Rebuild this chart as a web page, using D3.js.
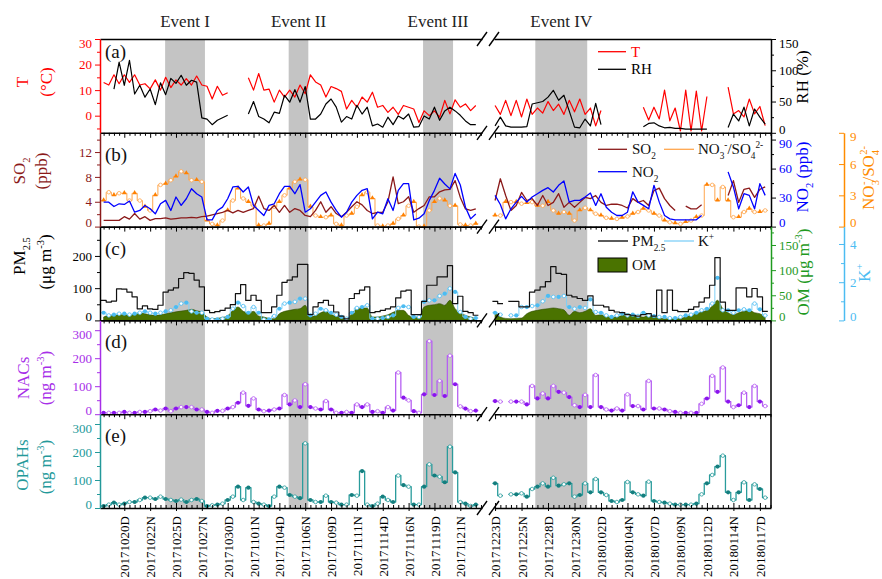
<!DOCTYPE html>
<html>
<head>
<meta charset="utf-8">
<script src="https://cdn.jsdelivr.net/npm/d3@7"></script>
<style>
  body { margin: 0; background: #fff; }
  svg { display: block; }
  text { font-family: "Liberation Serif", "Times New Roman", serif; }
</style>
</head>
<body>
<svg id="chart" width="882" height="579"></svg>
<script>
// ---- data (12-h samples, D = day, N = night); left block starts 20171018D, right block 20171223D
const tLeft = [13, 12, 16, 12.5, 16, 13, 16, 12, 12.5, 10.5, 14, 10, 15, 11, 14, 12, 14.5, 12, 15.5, 12, 11.5, 6.5, 11.5, 8, 9, null, null, null, 14.8, 10, 16.5, 10, 10.4, 5.3, 10, 7.3, 10, 7.3, 12, 8.6, 16, 13.2, 12, 7.3, 11.4, 10.6, 9.5, 2.6, 6, 3.3, 7.3, 5.3, 9.2, 3.3, 4, 1.3, 3.3, 0.5, 4, 3.3, 2.6, -2.7, 1.9, 0, 1.9, -0.6, 6, 0.7, 6.2, 3.3, 4.6, 2, 4];
const tRight = [4, 0.5, 6, 0, 6, -0.5, 6.5, 0.5, 3, 1, 5.5, 2, 4.5, 0.5, 6, 1.5, 6.5, 0.5, 3, -4, 2, null, null, null, null, null, null, null, 3.3, -1.7, 3.3, -1.3, 10, -2, 3, -6, 10, -6, 9.6, -6, 7.5, null, null, null, 11.2, 0.7, 2, -0.5, 6.5, 0.7, 3.6, -3.9];
const rhLeft = [null, null, 70, 113, 76, 116, 62, 76, 57, 70, 45, 80, 61, 87, 79, 92, 76, 84, 81, 24, 22, 13, 20, 24, 28, null, null, null, 30, 50, 26, 22, 16, 33, 31, 60, 49, 69, 49, 74, 22, 22, 30, 46, 54, 41, 17, 26, 22, 44, 30, 41, 11, 14, 9, 25, 13, 27, 22, 30, 9, 10, 27, 22, 41, 20, 35, 41, 35, 28, 19, 13, 13];
const rhRight = [11, 25, 11, 9, 9, 9, 10, 46, 48, 50, 57, 68, 52, 60, 35, 9, 8, 22, 11, 47, 13, null, null, null, null, null, null, null, 9.7, 15, 16, 11, 8, 8.6, 7, 7, 6, 6, 6, 6, 6, null, null, null, 8.6, 30, 19, 41, 11, 38, 25, 14];

const so2Left = [1.0, 1.0, 1.0, 1.0, 1.6, 1.2, 2.1, 1.2, 1.6, 1.0, 1.3, 1.3, 1.4, 1.2, 1.3, 1.4, 1.4, 1.5, 1.4, 1.6, 1.7, 1.9, 2.1, 2.3, 2.6, 2.2, 2.6, 2.3, 2.6, 2.9, 4.9, 2.9, 2.6, 3.4, 2.3, 3.4, 2.3, 2.9, 2.6, 1.8, 1.6, 2.6, 4.0, 2.3, 3.2, 2.1, 1.6, 2.3, 3.2, 4.0, 3.5, 2.6, 2.1, 2.3, 2.3, 4.0, 8.0, 3.7, 4.0, 4.8, 2.3, 2.9, 3.4, 4.8, 4.8, 5.6, 5.9, 6.0, 7.4, 4.7, 2.85, 2.6, 2.85];
const so2Right = [4.2, 7.7, 5.0, 2.6, 3.4, 5.5, 4.2, 4.5, 3.4, 5.0, 3.4, 3.9, 5.3, 3.1, 3.9, 3.1, 3.9, 4.7, 4.5, 5.0, 3.9, 3.4, 3.6, 3.6, 3.4, 3.0, 4.5, 3.9, 4.2, 3.4, 5.8, 6.2, 4.5, 3.4, 2.6, null, 3.3, 2.85, 2.85, 3.5, null, null, null, null, 5.0, 7.4, 3.9, 6.0, 6.2, 4.7, 6.0, 6.4];
const no2Left = [25.3, 25.3, 20.8, 23.6, 22.9, 26.4, 14.9, 16.7, 21.9, 18.4, 13.2, 23.6, 27.1, 16.7, 30.6, 21.9, 28.8, 39.2, 34, 30.6, 7, 7, 16.7, 20.1, 28.8, 41, 41.7, 35.8, 41, 21.9, 16.7, 11.5, 21.9, 23.6, 34, 41.7, 41.7, 34, 43.4, 14.9, 18.4, 25.3, 32.3, 35.8, 25.3, 16.7, 9.7, 14.9, 25.3, 32.3, 37.5, 39.2, 8, 14.9, 13.2, 28.8, 16.7, 37.5, 44.4, 44.4, 7, 8.7, 13.2, 27.1, 37.5, 50, 44, 39, 55, 43, 20, 8, 13];
const no2Right = [32.3, 22.9, 8, 18.4, 25.3, 31.2, 25.3, 30.6, 34, 37.5, 40.3, 35.8, 42.7, 47.2, 25.3, 27.1, 27.1, 30.6, 34.7, 21.9, 34, 20.1, 14.9, 11.5, 11.5, 14.9, 36, 25.3, 21.9, 18.4, 42.7, 25.3, 11.5, 8, 7, 7, 7, 7, 7, 11.5, null, null, null, null, 56.6, 41, 18.4, 34, 32.3, 18.4, 44.4, 32.3];
const ratioLeft = [2.5, 3.3, 3.0, 3.2, 3.2, 2.5, 3.2, 2.5, 1.9, 1.55, 3.0, 4.0, 4.1, 4.45, 4.8, 5.3, 5.1, 4.45, 4.45, 4.3, 0.58, 0.26, 0.1, 0.58, 1.55, 2.5, 3.65, 2.7, 2.35, 2.0, 0.1, 0.1, 0.26, 1.9, 2.35, 3.0, 3.65, 4.3, 4.5, 4.5, 1.9, 1.06, 0.9, 0.9, 1.06, 0.26, 0.1, 1.06, 1.23, 1.9, 3.0, 3.3, 2.7, 0.1, 0, 0.1, 0.26, 0.74, 1.06, 2.0, 2.35, 0, 0, 1.55, 2.35, 2.7, 2.5, 2.0, 2.0, 0.2, 0.1, 0.1, 0.26];
const ratioRight = [1.06, 1.06, 2.35, 2.35, 2.35, 2.2, 2.25, 2.35, 2.0, 2.0, 2.35, 1.55, 1.23, 1.4, 1.23, 0.58, 1.55, 1.8, 1.55, 1.23, 1.06, 0.84, 0.74, 0.74, 0.84, 0.97, 1.23, 1.4, 1.7, 1.55, 1.23, 1.06, 0.58, 0.42, 0.32, 0.26, 0.42, 0.58, 0.9, 1.06, 4.0, 4.0, 2.5, 3.8, 2.5, 0.9, 0.9, 1.4, 1.7, 1.4, 1.4, 1.55];

const pmLeft = [62, 57, 60, 98, 97, 88, 73, 36, 45, 36, 34, 47, 88, 94, 101, 130, 148, 146, 125, 104, 31, 24, 27, 31, 38, 49, 83, 111, 62, 78, 62, 24, 24, 42, 78, 118, 125, 135, 174, 174, 18, 42, 55, 62, 47, 26, 13, 5, 68, 83, 94, 104, 24, 27, 31, 36, 42, 70, 91, 94, 18, 18, 59, 109, 109, 135, 135, 170, 52, 75, 28, 24, 16];
const pmRight = [59, 52, null, 59, 59, 42, 42, 88, 94, 104, 120, 167, 146, 143, 78, 73, 68, 62, 76, 47, 47, 42, 31, 26, 24, 18, 16, 13, 18, 21, 13, 94, 24, 94, 31, 27, 27, 34, 42, 57, 70, 109, 195, 57, 31, 31, 101, 101, 73, 99, 73, 28];
const omLeft = [6.7, 10, 10.5, 11.3, 11.3, 11.3, 13, 15.3, 13.3, 11, 10, 11, 13.3, 15, 17, 18.5, 20, 22, 19, 16.7, 6.7, 3.3, 4, 6, 9, 20, 26.7, 18, 15.3, 18, 8.7, 6.7, 4, 3.3, 13.3, 18, 20, 22, 23.3, 30, 6.7, 10, 15.3, 18, 12, 8, 6.7, 3.3, 13.3, 23.3, 24.7, 24.7, 6.7, 6.7, 8.7, 11.3, 16, 20, 20, 10, 6.7, 6.7, 26.7, 30, 31.3, 33.3, 30, 40, 23.3, 15, 10, 6.7, 3.3];
const omRight = [18, 6.7, 4, 3.3, 4, 4.7, 13.3, 18, 20, 22, 23.3, 24.7, 23.3, 21, 10, 18, 15.3, 18, 23.3, 10, 11.3, 9, 6.7, 6.7, 10, 13.3, 10, 8, 6.7, 10, 6.7, 4.7, 3.3, 3.3, 3.3, 4, 6.7, 11.3, 14, 16.7, 20, 28, 40, 23.3, 15.3, 11.3, 15.3, 18, 20, 15.3, 13.3, 6.7];
const kLeft = [0.4, 0.26, 0.3, 0.35, 0.35, 0.3, 0.35, 0.4, 0.47, 0.4, 0.35, 0.4, 0.47, 0.53, 0.7, 0.88, 0.93, 0.47, 0.4, 0.4, 0.09, 0.05, 0.05, 0.09, 0.18, 0.61, 0.93, 0.75, 0.4, 0.7, 0.4, 0.05, 0.05, 0.23, 0.61, 0.88, 0.93, 0.97, 1.14, 1.14, 0.26, 0.35, 0.61, 0.53, 0.4, 0.3, 0.18, 0.09, 0.4, 0.65, 0.7, 0.79, 0.09, 0.09, 0.12, 0.18, 0.26, 0.65, 0.74, 0.7, 0.18, 0.18, 0.97, 1.05, 1.05, 1.28, 1.4, 1.67, 1.49, 0.44, 0.18, 0.09, 0.12];
const kRight = [0.4, 0.3, null, 0.26, 0.26, 0.7, 0.7, 0.75, 0.79, 1.0, 1.28, 1.23, 1.23, 1.28, 0.7, 0.61, 0.7, 0.65, 1.1, 0.44, 0.4, 0.26, 0.18, 0.26, 0.35, 0.26, 0.3, 0.23, 0.4, 0.26, 0.23, 0.18, 0.18, 0.12, 0.12, 0.18, 0.26, 0.3, 0.4, 0.53, 0.61, 0.88, 2.23, 0.53, 0.53, 0.4, 0.53, 0.58, 0.53, 0.88, 0.58, 0.26];

const nacsLeft = [4.8, 4.8, 4.8, 4.8, 8, 4.8, 4.8, 8, 8, 10.8, 16.8, 13, 20.4, 10.8, 20.4, 25.3, 25.3, 25.3, 16.8, 16.8, 8, 4.8, 12, 12, 20.4, 25.3, 40.9, 77, 30, 56.5, 16.8, 10.8, 13, 16.8, 20.4, 68.6, 34.9, 49.3, 25.3, 107, 25.3, 20.4, 16.8, 47, 16.8, 4.8, 4.8, 8, 4.8, 34.9, 25.3, 34.9, 8, 10.8, 4.8, 25.3, 13, 149, 59, 49.3, 10.8, 4.8, 71, 261, 68.6, 119, 65, 209, 107, 28, 20, 10.8, 13];
const nacsRight = [47, 45, null, 45, 45, 45, 35, 101, 56.5, 74, 56.5, 101, 80, 77, 61, 32, 25.3, 69, 25.3, 140, 25.3, 16.8, 13, 20.4, 13, 71, 29, 29, 16.8, 119, 20.4, 20.4, 16.8, 10.8, 8, 4.8, 4.8, 4.8, 4.8, 37, 56, 137, 80, 167, 45, 25.3, 32, 77, 25.3, 101, 45, 29];
const opahsLeft = [7.1, 11.9, 19, 11.9, 15.5, 21.4, 21.4, 28.6, 36.9, 36.9, 32.1, 40.5, 32.1, 28.6, 25, 30, 21.4, 28.6, 32.1, 25, 7.1, 9.5, 11.9, 15.5, 28.6, 40.5, 76.2, 28.6, 72.6, 21.4, 15.5, 11.9, 7.1, 40.5, 76.2, 72.6, 46.4, 40.5, 35, 231, 28.6, 21.4, 21.4, 44, 21.4, 19, 11.9, 11.9, 46.4, 44, 132, 11.9, 7.1, 15.5, 40.5, 28.6, 21.4, 116, 82, 76.2, 11.9, 11.9, 76.2, 156, 116, 112, 92, 219, 127, 21, 15.5, 7.1, 11.9];
const opahsRight = [88, 44, null, 48.8, 48.8, 52.4, 40.5, 67.9, 76.2, 88, 76.2, 108, 79.8, 84.5, 88, 40.5, 46.4, 88, 55.9, 103.6, 55.9, 46.4, 25, 21.4, 28.6, 93, 55.9, 48.8, 44, 94, 25, 21.4, 19, 15.5, 11.9, 11.9, 11.9, 11.9, 15.5, 48.8, 88, 118, 148, 187, 55.9, 28.6, 55.9, 91.7, 28.6, 84.5, 67.9, 36.9];

const leftTickLabels = ["20171020D", "20171022N", "20171025D", "20171027N", "20171030D", "20171101N", "20171104D", "20171106N", "20171109D", "20171111N", "20171114D", "20171116N", "20171119D", "20171121N"];
const rightTickLabels = ["20171223D", "20171225N", "20171228D", "20171230N", "20180102D", "20180104N", "20180107D", "20180109N", "20180112D", "20180114N", "20180117D"];

const eventNames = ["Event I", "Event II", "Event III", "Event IV"];
const eventBlock = ["L", "L", "L", "R"];
const eventFrom = [11.9, 35.8, 61.8, 7.6];
const eventTo = [19.6, 39.6, 67.6, 17.4];

// ---- sample names for the two blocks
const fmtDay = d3.timeFormat("%Y%m%d");
function halfDays(start, count) {
  const out = [];
  for (let k = 0; k < count; k++) {
    out.push(fmtDay(d3.timeDay.offset(start, Math.floor(k / 2))) + (k % 2 ? "N" : "D"));
  }
  return out;
}
const leftSamples = halfDays(new Date(2017, 9, 18), tLeft.length);
const rightSamples = halfDays(new Date(2017, 11, 23), tRight.length);

// ---- layout
const plotLeft = 100, plotRight = 771, breakL = 482, breakR = 494;
const rows = [39, 132.8, 226.6, 320.4, 414.2, 508];
const extraAxisX = 844;

const xL = d3.scaleLinear().domain([-0.7, 73.2]).range([plotLeft, breakL]);
const xR = d3.scaleLinear().domain([-0.2, 52.1]).range([breakR, plotRight]);

const svg = d3.select("#chart");

const colT = "#ff0000", colSO2 = "#8b1a1a", colNO2 = "#0000ff", colRatio = "#ff8c00";
const colOM = "#4a7300", colOMaxis = "#1f9a1f", colK = "#4cbcf2";
const colNACs = "#a72ee8", colOPAH = "#23999a";

// event shading
eventNames.forEach((name, k) => {
  const x = eventBlock[k] === "L" ? xL : xR;
  svg.append("rect")
    .attr("x", x(eventFrom[k])).attr("y", rows[0])
    .attr("width", x(eventTo[k]) - x(eventFrom[k]))
    .attr("height", rows[5] - rows[0])
    .attr("fill", "#c4c4c4");
  svg.append("text")
    .attr("x", (x(eventFrom[k]) + x(eventTo[k])) / 2).attr("y", 27)
    .attr("text-anchor", "middle").attr("font-size", 17).attr("fill", "#222")
    .text(name);
});

// ---- helpers
function padRuns(vals) {
  const pts = [];
  vals.forEach((v, i) => {
    if (v == null) { pts.push({ i, v: null }); return; }
    if (i === 0 || vals[i - 1] == null) pts.push({ i: i - 0.5, v });
    pts.push({ i, v });
    if (i === vals.length - 1 || vals[i + 1] == null) pts.push({ i: i + 0.5, v });
  });
  return pts;
}

function drawLine(g, y, blocks, color, width, step) {
  blocks.forEach((vals, b) => {
    const x = b ? xR : xL;
    const pts = step ? padRuns(vals) : vals.map((v, i) => ({ i, v }));
    const line = d3.line()
      .defined(d => d.v != null)
      .x(d => x(d.i)).y(d => y(d.v))
      .curve(step ? d3.curveStep : d3.curveLinear);
    g.append("path").attr("d", line(pts))
      .attr("fill", "none").attr("stroke", color)
      .attr("stroke-width", width).attr("stroke-linejoin", "round");
  });
}

function drawMarks(g, y, blocks, fillCol, strokeCol, tri) {
  blocks.forEach((vals, b) => {
    const x = b ? xR : xL;
    const pts = vals.map((v, i) => ({ i, v })).filter(d => d.v != null);
    pts.forEach(d => {
      if (d.i % 2 === 0) {
        if (tri) {
          g.append("path").attr("d", d3.symbol(d3.symbolTriangle, 10)())
            .attr("transform", `translate(${x(d.i)},${y(d.v) - 0.5})`).attr("fill", fillCol);
        } else {
          g.append("circle").attr("cx", x(d.i)).attr("cy", y(d.v)).attr("r", 2.1).attr("fill", fillCol);
        }
      } else {
        g.append("circle").attr("cx", x(d.i)).attr("cy", y(d.v)).attr("r", 1.8)
          .attr("fill", "#fff").attr("stroke", strokeCol).attr("stroke-width", 0.8);
      }
    });
  });
}

function styleAxis(g, color, width) {
  g.select(".domain").attr("stroke", color).attr("stroke-width", width || 1.5);
  g.selectAll(".tick line").attr("stroke", color);
  g.selectAll(".tick text").attr("fill", color).attr("font-size", 13)
    .attr("font-family", "Liberation Serif, serif");
}

function yAxis(kind, y, x0, color, majors, minors, textColor, ticksIn) {
  const mk = kind === "left" ? d3.axisLeft : d3.axisRight;
  const g = svg.append("g").attr("transform", `translate(${x0},0)`);
  g.call(mk(y).tickValues(majors).tickSize(ticksIn ? -5 : 5).tickSizeOuter(0)
    .tickPadding(ticksIn ? 6 : 3).tickFormat(d3.format("~g")));
  styleAxis(g, color);
  if (textColor) g.selectAll(".tick text").attr("fill", textColor);
  // keep labels at shared panel edges apart
  const [r0, r1] = y.range();
  g.selectAll(".tick text").attr("dy", d => {
    if (Math.abs(y(d) - r0) < 1) return "0.02em";
    if (y(d) - r1 < 11) return "0.62em";
    return "0.32em";
  });
  if (minors.length) {
    const m = g.append("g").call(mk(y).tickValues(minors).tickSize(ticksIn ? -3 : 3).tickSizeOuter(0).tickFormat(""));
    m.select(".domain").remove();
    m.selectAll(".tick line").attr("stroke", color);
  }
  return g;
}

function rich(sel, parts, size) {
  let shift = 0;
  parts.forEach(p => {
    const [t, kind, dx] = p;
    const target = kind === "sub" ? 0.32 * size : kind === "sup" ? -0.42 * size : 0;
    const ts = sel.append("tspan").attr("dy", target - shift)
      .attr("font-size", kind ? size * 0.62 : size).text(t);
    if (dx) ts.attr("dx", dx);
    shift = target;
  });
}

function vTitle(cx, cy, color, parts, size) {
  const t = svg.append("text")
    .attr("transform", `translate(${cx},${cy}) rotate(-90)`)
    .attr("text-anchor", "middle")
    .attr("fill", color).attr("font-size", size || 17);
  const inner = t.append("tspan").attr("dy", "0.35em");
  rich(inner, parts, size || 17);
}

function clipFor(k) {
  const id = "clip" + k;
  svg.append("clipPath").attr("id", id).append("rect")
    .attr("x", plotLeft).attr("y", rows[k]).attr("width", plotRight - plotLeft).attr("height", rows[k + 1] - rows[k]);
  return svg.append("g").attr("clip-path", `url(#${id})`);
}

// ---- panel (a)
const yT = d3.scaleLinear().domain([-6.7, 30]).range([rows[1], rows[0]]);
const yRH = d3.scaleLinear().domain([0, 150]).range([rows[1], rows[0]]);
const gA = clipFor(0);
drawLine(gA, yT, [tLeft, tRight], colT, 1.2, false);
drawLine(gA, yRH, [rhLeft, rhRight], "#000", 1.2, false);

// ---- panel (b)
const ySO2 = d3.scaleLinear().domain([0, 15.1]).range([rows[2], rows[1]]);
const yNO2 = d3.scaleLinear().domain([0, 97]).range([rows[2], rows[1]]);
const yRatio = d3.scaleLinear().domain([0, 9]).range([rows[2], rows[1]]);
const gB = clipFor(1);
drawLine(gB, yRatio, [ratioLeft, ratioRight], "#ffa64d", 1, true);
drawMarks(gB, yRatio, [ratioLeft, ratioRight], "#ff8000", "#ffa64d", true);
drawLine(gB, ySO2, [so2Left, so2Right], colSO2, 1.3, false);
drawLine(gB, yNO2, [no2Left, no2Right], colNO2, 1.3, false);

// ---- panel (c)
const yPM = d3.scaleLinear().domain([0, 291]).range([rows[3], rows[2]]);
const yOM = d3.scaleLinear().domain([0, 186.6]).range([rows[3], rows[2]]);
const yK = d3.scaleLinear().domain([0, 4.91]).range([rows[3], rows[2]]);
const gC = clipFor(2);
[omLeft, omRight].forEach((vals, b) => {
  const x = b ? xR : xL;
  const area = d3.area().defined(d => d != null)
    .x((d, i) => x(i)).y0(yOM(0)).y1(d => yOM(d)).curve(d3.curveMonotoneX);
  gC.append("path").attr("d", area(vals)).attr("fill", colOM)
    .attr("stroke", "#2f4d00").attr("stroke-width", 0.6);
});
drawLine(gC, yK, [kLeft, kRight], "#7fd0f7", 1, true);
drawMarks(gC, yK, [kLeft, kRight], colK, colK, false);
drawLine(gC, yPM, [pmLeft, pmRight], "#111", 1.2, true);

// ---- panel (d)
const yNACs = d3.scaleLinear().domain([0, 335]).range([rows[4], rows[3]]);
const gD = clipFor(3);
drawLine(gD, yNACs, [nacsLeft, nacsRight], "#b660f2", 1.3, true);
drawMarks(gD, yNACs, [nacsLeft, nacsRight], "#8a14ee", "#b660f2", false);

// ---- panel (e)
const yOPAH = d3.scaleLinear().domain([0, 335]).range([rows[5], rows[4]]);
const gE = clipFor(4);
drawLine(gE, yOPAH, [opahsLeft, opahsRight], "#2a9c9c", 1.3, true);
drawMarks(gE, yOPAH, [opahsLeft, opahsRight], "#147e7e", "#2a9c9c", false);

// ---- horizontal frame lines with x ticks and the axis break
const leftMajor = leftTickLabels.map(l => leftSamples.indexOf(l));
const rightMajor = rightTickLabels.map(l => rightSamples.indexOf(l));
const leftMinor = d3.range(0, 74).filter(i => !leftMajor.includes(i));
const rightMinor = d3.range(0, 53).filter(i => !rightMajor.includes(i));

rows.forEach((ry, k) => {
  [[xL, leftMajor, leftMinor], [xR, rightMajor, rightMinor]].forEach(([x, maj, min]) => {
    const mk = k === 5 ? d3.axisTop : d3.axisBottom;
    const g = svg.append("g").attr("transform", `translate(0,${ry})`);
    g.call(mk(x).tickValues(k === 0 ? [] : maj).tickSize(5).tickSizeOuter(0).tickFormat(""));
    g.select(".domain").attr("stroke", "#000").attr("stroke-width", 1.6);
    g.selectAll(".tick line").attr("stroke", "#000");
    if (k > 0) {
      const m = g.append("g").call(mk(x).tickValues(min).tickSize(3).tickSizeOuter(0).tickFormat(""));
      m.select(".domain").remove();
      m.selectAll(".tick line").attr("stroke", "#000");
    }
  });
  [breakL, breakR].forEach(bx => {
    svg.append("line").attr("x1", bx - 5).attr("y1", ry + 7).attr("x2", bx + 5).attr("y2", ry - 7)
      .attr("stroke", "#000").attr("stroke-width", 1.4);
  });
});

// bottom tick labels
[[xL, leftMajor, leftSamples], [xR, rightMajor, rightSamples]].forEach(([x, maj, names]) => {
  const g = svg.append("g").attr("transform", `translate(0,${rows[5]})`);
  g.call(d3.axisBottom(x).tickValues(maj).tickSize(3).tickSizeOuter(0).tickFormat(i => names[i]));
  g.select(".domain").remove();
  g.selectAll(".tick line").attr("stroke", "#000");
  g.selectAll(".tick text")
    .attr("transform", "rotate(-90)").attr("text-anchor", "end")
    .attr("x", -8).attr("y", 0).attr("dy", "0.35em")
    .attr("font-size", 13).attr("fill", "#000").attr("font-family", "Liberation Serif, serif");
});

// ---- y axes, left
yAxis("left", yT, plotLeft, colT, [0, 10, 20, 30], [-5, 5, 15, 25]);
yAxis("left", ySO2, plotLeft, colSO2, [0, 4, 8, 12], [2, 6, 10, 14]);
yAxis("left", yPM, plotLeft, "#000", [0, 100, 200], [50, 150, 250]);
yAxis("left", yNACs, plotLeft, colNACs, [0, 100, 200, 300], [50, 150, 250]);
yAxis("left", yOPAH, plotLeft, colOPAH, [0, 100, 200, 300], [50, 150, 250]);

// ---- y axes, right
yAxis("right", yRH, plotRight, "#000", [0, 50, 100, 150], [25, 75, 125]);
yAxis("right", yNO2, plotRight, "#000", [0, 30, 60, 90], [15, 45, 75], colNO2);
yAxis("right", yOM, plotRight, colOMaxis, [0, 50, 100, 150], [25, 75, 125, 175]);
yAxis("right", yRatio, extraAxisX, colRatio, [0, 3, 6, 9], [], null, true);
yAxis("right", yK, extraAxisX, colK, [0, 2, 4], [1, 3], null, true);
[3, 4].forEach(k => {
  svg.append("line").attr("x1", plotRight).attr("x2", plotRight)
    .attr("y1", rows[k]).attr("y2", rows[k + 1]).attr("stroke", "#000").attr("stroke-width", 1.5);
});

// ---- axis titles
vTitle(28, 82, colT, [["T"]]);
vTitle(52, 82, colT, [["(°C)"]]);
vTitle(25, 171, colSO2, [["SO"], ["2", "sub"], [""]]);
vTitle(47, 171, colSO2, [["(ppb)"]]);
vTitle(25, 256, "#000", [["PM"], ["2.5", "sub"], [""]]);
vTitle(51, 262, "#000", [["(μg m"], ["-3", "sup"], [")"]]);
vTitle(29, 378, colNACs, [["NACs"]]);
vTitle(51, 378, colNACs, [["(ng m"], ["-3", "sup"], [")"]]);
vTitle(28, 465, colOPAH, [["OPAHs"]]);
vTitle(51, 467, colOPAH, [["(ng m"], ["-3", "sup"], [")"]]);

vTitle(808, 77, "#000", [["RH (%)"]]);
vTitle(808, 177, colNO2, [["NO"], ["2", "sub"], [" (ppb)"]]);
vTitle(874, 178, colRatio, [["NO"], ["3", "sub"], ["-", "sup", -5], ["/SO"], ["4", "sub"], ["2-", "sup", -5], [""]]);
vTitle(809, 272, colOMaxis, [["OM (μg m"], ["-3", "sup"], [")"]]);
vTitle(870, 273, colK, [["K"], ["+", "sup"], [""]]);

// ---- panel letters
["(a)", "(b)", "(c)", "(d)", "(e)"].forEach((s, k) => {
  svg.append("text").attr("x", 105).attr("y", rows[k] + (k === 0 ? 19 : 28))
    .attr("font-size", 19).attr("fill", "#111").text(s);
});

// ---- legends
function legLine(x1, x2, y, color, w) {
  svg.append("line").attr("x1", x1).attr("x2", x2).attr("y1", y).attr("y2", y)
    .attr("stroke", color).attr("stroke-width", w || 1.3);
}
function legText(x, y, color, parts) {
  const t = svg.append("text").attr("x", x).attr("y", y + 5).attr("font-size", 15).attr("fill", color);
  rich(t, parts, 15);
}
legLine(598, 626, 51.7, colT);
legText(631, 51.7, colT, [["T"]]);
legLine(598, 626, 69.3, "#000");
legText(631, 69.3, "#000", [["RH"]]);

legLine(598, 627, 149.3, colSO2);
legText(632, 149.3, "#111", [["SO"], ["2", "sub"], [""]]);
legLine(664, 694, 149.3, "#ffa64d");
legText(698, 149.3, "#111", [["NO"], ["3", "sub"], ["-", "sup"], ["/SO"], ["4", "sub"], ["2-", "sup"], [""]]);
legLine(598, 627, 171.7, colNO2);
legText(632, 171.7, "#111", [["NO"], ["2", "sub"], [""]]);

legLine(598, 628, 241, "#000");
legText(632, 241, "#111", [["PM"], ["2.5", "sub"], [""]]);
legLine(664, 694, 241, "#7fd0f7");
legText(698, 241, "#111", [["K"], ["+", "sup"], [""]]);
svg.append("rect").attr("x", 598).attr("y", 258).attr("width", 29).attr("height", 14)
  .attr("fill", colOM).attr("stroke", "#000").attr("stroke-width", 1);
legText(632, 265, "#111", [["OM"]]);
</script>
</body>
</html>
